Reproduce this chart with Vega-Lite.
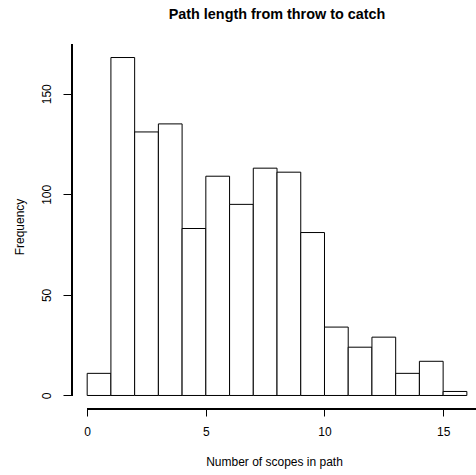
{
  "$schema": "https://vega.github.io/schema/vega-lite/v6.json",
  "autosize": "none",
  "padding": {"left": 72, "top": 44, "right": 0, "bottom": 66},
  "width": 404,
  "height": 365,
  "background": "white",
  "title": {
    "text": "Path length from throw to catch",
    "font": "Liberation Sans",
    "fontSize": 14.4,
    "fontWeight": "bold",
    "color": "#000",
    "anchor": "middle",
    "dx": 3,
    "offset": 21
  },
  "config": {
    "view": {"stroke": null},
    "axis": {
      "labelFont": "Liberation Sans",
      "titleFont": "Liberation Sans",
      "labelFontSize": 12,
      "titleFontSize": 12,
      "titleFontWeight": "normal",
      "labelColor": "#000",
      "titleColor": "#000",
      "tickColor": "#000",
      "grid": false,
      "domain": false
    }
  },
  "data": {
    "values": [
      {"start": 0, "end": 1, "count": 11},
      {"start": 1, "end": 2, "count": 168},
      {"start": 2, "end": 3, "count": 131},
      {"start": 3, "end": 4, "count": 135},
      {"start": 4, "end": 5, "count": 83},
      {"start": 5, "end": 6, "count": 109},
      {"start": 6, "end": 7, "count": 95},
      {"start": 7, "end": 8, "count": 113},
      {"start": 8, "end": 9, "count": 111},
      {"start": 9, "end": 10, "count": 81},
      {"start": 10, "end": 11, "count": 34},
      {"start": 11, "end": 12, "count": 24},
      {"start": 12, "end": 13, "count": 29},
      {"start": 13, "end": 14, "count": 11},
      {"start": 14, "end": 15, "count": 17},
      {"start": 15, "end": 16, "count": 2}
    ]
  },
  "layer": [
    {
      "mark": {"type": "bar", "fill": "white", "stroke": "#000", "strokeWidth": 1, "binSpacing": 0},
      "encoding": {
        "x": {
          "field": "start",
          "type": "quantitative",
          "scale": {"domain": [-0.64, 16.385], "nice": false, "zero": false},
          "axis": {
            "values": [0, 5, 10, 15],
            "title": "Number of scopes in path",
            "tickSize": 7,
            "labelPadding": 10,
            "titlePadding": 19,
            "labelFlush": false
          }
        },
        "x2": {"field": "end"},
        "y": {
          "field": "count",
          "type": "quantitative",
          "scale": {"domain": [-6.72, 174.72], "nice": false, "zero": false},
          "axis": {
            "values": [0, 50, 100, 150],
            "title": "Frequency",
            "tickSize": 9,
            "labelAngle": 270,
            "labelAlign": "center",
            "labelBaseline": "bottom",
            "labelPadding": 10,
            "titlePadding": 14,
            "labelFlush": false
          }
        },
        "y2": {"datum": 0}
      }
    },
    {
      "mark": {"type": "rule", "color": "#000", "strokeWidth": 1},
      "encoding": {
        "x": {"datum": 0, "type": "quantitative"},
        "x2": {"datum": 16.385},
        "y": {"datum": -6.72, "type": "quantitative"}
      }
    },
    {
      "mark": {"type": "rule", "color": "#000", "strokeWidth": 1},
      "encoding": {
        "x": {"datum": -0.64, "type": "quantitative"},
        "y": {"datum": 0, "type": "quantitative"},
        "y2": {"datum": 174.72}
      }
    }
  ]
}
